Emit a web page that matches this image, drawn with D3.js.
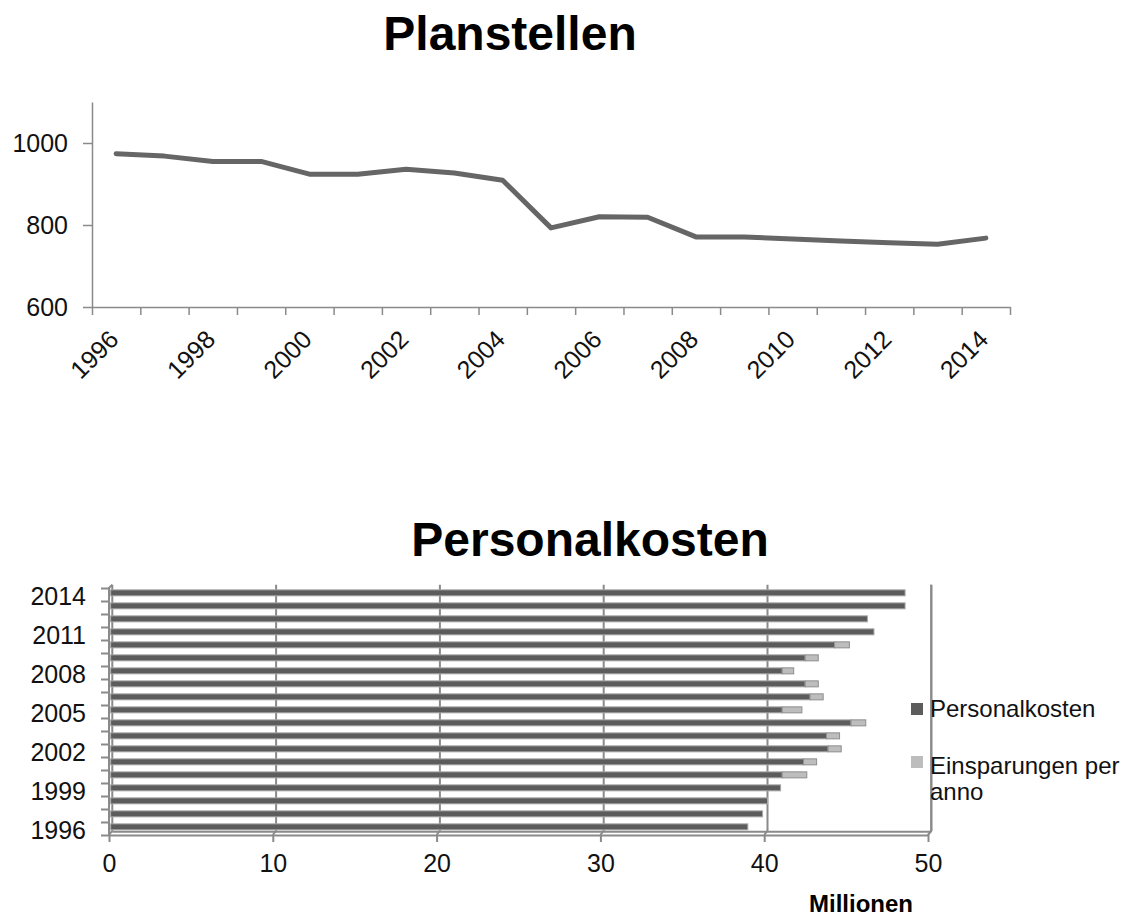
<!DOCTYPE html>
<html>
<head>
<meta charset="utf-8">
<script src="https://cdn.jsdelivr.net/npm/d3@7"></script>
<style>
  html, body { margin: 0; padding: 0; background: #fff; }
  svg { display: block; font-family: "Liberation Sans", Arial, sans-serif; }
</style>
</head>
<body>
<svg id="chart" width="1143" height="916"></svg>
<script>
// ---- Planstellen (line chart) ----
const planYears = ["1996","1997","1998","1999","2000","2001","2002","2003","2004","2005",
                   "2006","2007","2008","2009","2010","2011","2012","2013","2014"];
const planstellen = [974, 968, 955, 955, 924, 924, 936, 927, 909, 793,
                     820, 819, 771, 771, 766, 761, 757, 753, 768];
const planYTicks = [600, 800, 1000];
const planXLabels = ["1996","1998","2000","2002","2004","2006","2008","2010","2012","2014"];

// ---- Personalkosten (stacked horizontal bars) ----
const costYears = ["1996","1997","1998","1999","2000","2001","2002","2003","2004","2005",
                   "2006","2007","2008","2009","2010","2011","2012","2013","2014"];
const personalkosten = [38.9, 39.8, 40.1, 40.9, 41.0, 42.3, 43.8, 43.7, 45.2, 41.0,
                        42.7, 42.4, 41.0, 42.4, 44.2, 46.6, 46.2, 48.5, 48.5];
const einsparungen = [0, 0, 0, 0, 1.5, 0.8, 0.8, 0.8, 0.9, 1.2,
                      0.8, 0.8, 0.7, 0.8, 0.9, 0, 0, 0, 0];
const costYLabels = ["2014","2011","2008","2005","2002","1999","1996"];
const costXTicks = [0, 10, 20, 30, 40, 50];
const seriesNames = ["Personalkosten", "Einsparungen per anno"];

const svg = d3.select("#chart");
const axisColor = "#8a8a8a";
const lineColor = "#666666";

// ================= Line chart =================
const g1 = svg.append("g");

g1.append("text")
  .attr("x", 510).attr("y", 50)
  .attr("text-anchor", "middle")
  .attr("font-size", 48).attr("font-weight", "bold")
  .attr("fill", "#000")
  .text("Planstellen");

const xPlan = d3.scaleBand().domain(planYears).range([92, 1010]);
const xPlanEdges = d3.scaleLinear().domain([0, planYears.length]).range([92, 1010]);
const yPlan = d3.scaleLinear().domain([600, 1100]).range([307, 102]);

// y axis
const yAxisPlan = g1.append("g")
  .attr("transform", "translate(92,0)")
  .call(d3.axisLeft(yPlan).tickValues(planYTicks).tickFormat(d3.format("d"))
        .tickSize(9).tickSizeOuter(0));
yAxisPlan.select(".domain").attr("stroke", axisColor).attr("stroke-width", 1.5);
yAxisPlan.selectAll(".tick line").attr("stroke", axisColor).attr("stroke-width", 1.5);
yAxisPlan.selectAll(".tick text")
  .attr("font-size", 25).attr("fill", "#111")
  .attr("font-family", "Liberation Sans, Arial, sans-serif")
  .attr("x", -24);

// x axis: ticks at band edges
const xAxisPlan = g1.append("g")
  .attr("transform", "translate(0,307)")
  .call(d3.axisBottom(xPlanEdges).tickValues(d3.range(planYears.length + 1))
        .tickSize(8).tickSizeOuter(0).tickFormat(""));
xAxisPlan.select(".domain").attr("stroke", axisColor).attr("stroke-width", 1.5);
xAxisPlan.selectAll(".tick line").attr("stroke", axisColor).attr("stroke-width", 1.5);

// rotated category labels (baseline end anchored just right of the band centre)
g1.selectAll("text.xlab")
  .data(planXLabels)
  .join("text")
  .attr("class", "xlab")
  .attr("text-anchor", "end")
  .attr("font-size", 25)
  .attr("fill", "#111")
  .attr("transform", d => `translate(${xPlan(d) + xPlan.bandwidth() / 2 + 4},${341}) rotate(-45)`)
  .text(d => d);

// the line
const line = d3.line()
  .x((d, i) => xPlan(planYears[i]) + xPlan.bandwidth() / 2)
  .y(d => yPlan(d));
g1.append("path")
  .datum(planstellen)
  .attr("fill", "none")
  .attr("stroke", lineColor)
  .attr("stroke-width", 5)
  .attr("stroke-linejoin", "round")
  .attr("stroke-linecap", "round")
  .attr("d", line);

// ================= Bar chart =================
const g2 = svg.append("g");

g2.append("text")
  .attr("x", 590).attr("y", 556)
  .attr("text-anchor", "middle")
  .attr("font-size", 48).attr("font-weight", "bold")
  .attr("fill", "#000")
  .text("Personalkosten");

// front plane scales; the back wall sits `depth` px up and to the right
const depth = 3.3;
const xCost = d3.scaleLinear().domain([0, 50]).range([109, 928]);
const yCost = d3.scaleBand().domain(costYears.slice().reverse()).range([588, 835]);
const yEdges = d3.scaleLinear().domain([0, costYears.length]).range([588, 835]);
const front = { left: 109, right: 928, top: 588, bottom: 835 };

function styled(sel) {
  return sel.attr("stroke", axisColor).attr("stroke-width", 2).attr("fill", "none");
}

// back wall gridlines (with a short diagonal down to the front floor)
costXTicks.forEach(v => {
  const xb = xCost(v) + depth;
  styled(g2.append("path"))
    .attr("d", `M${xb},${front.top - depth} L${xb},${front.bottom - depth - 1} L${xCost(v)},${front.bottom}`);
});

// back floor line
styled(g2.append("line"))
  .attr("x1", front.left + depth).attr("x2", front.right + depth)
  .attr("y1", front.bottom - depth).attr("y2", front.bottom - depth);

// left side wall (front edge + top diagonal)
styled(g2.append("path"))
  .attr("d", `M${front.left},${front.bottom} L${front.left},${front.top} L${front.left + depth},${front.top - depth}`);

// left axis ticks at category boundaries
const yAxisCost = g2.append("g")
  .attr("transform", `translate(${front.left},0)`)
  .call(d3.axisLeft(yEdges).tickValues(d3.range(costYears.length + 1))
        .tickSize(8).tickSizeOuter(0).tickFormat(""));
yAxisCost.select(".domain").remove();
yAxisCost.selectAll(".tick line").attr("stroke", axisColor).attr("stroke-width", 2);

// bottom axis (front floor edge)
const xAxisCost = g2.append("g")
  .attr("transform", `translate(0,${front.bottom})`)
  .call(d3.axisBottom(xCost).tickValues(costXTicks).tickSize(7).tickSizeOuter(0).tickPadding(12));
xAxisCost.select(".domain").attr("stroke", axisColor).attr("stroke-width", 2);
xAxisCost.selectAll(".tick line").attr("stroke", axisColor).attr("stroke-width", 2);
xAxisCost.selectAll(".tick text")
  .attr("font-size", 25).attr("fill", "#111")
  .attr("font-family", "Liberation Sans, Arial, sans-serif");

// y labels (every third year)
g2.selectAll("text.ylab")
  .data(costYLabels)
  .join("text")
  .attr("class", "ylab")
  .attr("x", 86)
  .attr("y", d => yCost(d) + yCost.bandwidth() / 2 + 2)
  .attr("dy", "0.35em")
  .attr("text-anchor", "end")
  .attr("font-size", 25)
  .attr("fill", "#111")
  .text(d => d);

// stacked bars, drawn at mid depth
const mid = depth / 2;
const barH = 6;
const rows = costYears.map((y, i) => ({ year: y, p: personalkosten[i], e: einsparungen[i] }));
const barY = d => yCost(d.year) + yCost.bandwidth() / 2 - mid - barH / 2;

g2.selectAll("rect.pk")
  .data(rows)
  .join("rect")
  .attr("class", "pk")
  .attr("x", xCost(0) + mid)
  .attr("y", barY)
  .attr("width", d => xCost(d.p) - xCost(0))
  .attr("height", barH)
  .attr("fill", "#5c5c5c")
  .attr("stroke", "#a8a8a8")
  .attr("stroke-width", 1);

g2.selectAll("rect.es")
  .data(rows.filter(d => d.e > 0))
  .join("rect")
  .attr("class", "es")
  .attr("x", d => xCost(d.p) + mid)
  .attr("y", barY)
  .attr("width", d => xCost(d.p + d.e) - xCost(d.p))
  .attr("height", barH)
  .attr("fill", "#bdbdbd")
  .attr("stroke", "#8e8e8e")
  .attr("stroke-width", 1);

// right back wall edge
styled(g2.append("path"))
  .attr("d", `M${front.right + depth},${front.top - depth} L${front.right + depth},${front.bottom - depth - 1} L${front.right},${front.bottom}`);

// axis title
g2.append("text")
  .attr("x", 861).attr("y", 912)
  .attr("text-anchor", "middle")
  .attr("font-size", 24).attr("font-weight", "bold")
  .attr("fill", "#000")
  .text("Millionen");

// legend
const legend = g2.append("g");
legend.append("rect").attr("x", 911).attr("y", 703).attr("width", 12).attr("height", 12).attr("fill", "#5c5c5c");
legend.append("text").attr("x", 930).attr("y", 717).attr("font-size", 24).attr("fill", "#111").text(seriesNames[0]);
legend.append("rect").attr("x", 911).attr("y", 756).attr("width", 12).attr("height", 12).attr("fill", "#bdbdbd");
const t2 = legend.append("text").attr("x", 930).attr("y", 774).attr("font-size", 24).attr("fill", "#111");
t2.append("tspan").attr("x", 930).text("Einsparungen per");
t2.append("tspan").attr("x", 930).attr("dy", 26).text("anno");
</script>
</body>
</html>
